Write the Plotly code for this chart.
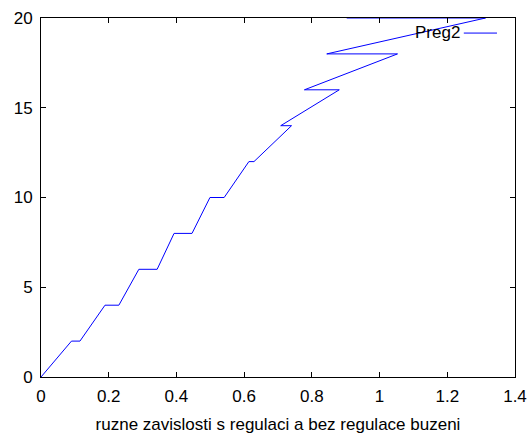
import plotly.graph_objects as go

x_vals = [0.0, 0.09, 0.115, 0.189, 0.23, 0.289, 0.343, 0.393, 0.446, 0.499, 0.541,
          0.614, 0.629, 0.740, 0.708, 0.881, 0.778, 1.053, 0.844, 1.313, 0.903]
y_vals = [0, 2, 2, 4, 4, 6, 6, 8, 8, 10, 10, 12, 12, 14, 14, 16, 16, 18, 18, 20, 20]
series_name = "Preg2"
x_title = "ruzne zavislosti s regulaci a bez regulace buzeni"
x_ticks = [0, 0.2, 0.4, 0.6, 0.8, 1, 1.2, 1.4]
x_ticktext = ["0", "0.2", "0.4", "0.6", "0.8", "1", "1.2", "1.4"]
y_ticks = [0, 5, 10, 15, 20]

font = dict(family="Liberation Sans, Arial, sans-serif", size=17, color="black")

fig = go.Figure()
fig.add_trace(go.Scatter(x=x_vals, y=y_vals, mode="lines", name=series_name,
                         line=dict(color="#0000ff", width=1), showlegend=False))

axis_common = dict(showline=True, linecolor="black", linewidth=1, mirror="allticks",
                   ticks="inside", ticklen=5, tickcolor="black", showgrid=False,
                   zeroline=False, tickfont=font, automargin=False)
fig.update_xaxes(range=[0, 1.4], tickvals=x_ticks, ticktext=x_ticktext,
                 ticklabelstandoff=4,
                 title=dict(text=x_title, font=font, standoff=12), **axis_common)
fig.update_yaxes(range=[0, 20], tickvals=y_ticks, ticklabelstandoff=4, **axis_common)

# gnuplot-style key: text then line sample
fig.add_annotation(xref="paper", yref="paper", x=0.881, y=0.96, text=series_name,
                   showarrow=False, xanchor="right", yanchor="middle", font=font,
                   xshift=3)
fig.add_shape(type="line", xref="paper", yref="paper", x0=0.892, x1=0.962,
              y0=0.958, y1=0.958, line=dict(color="#0000ff", width=1))

fig.update_layout(width=531, height=437, margin=dict(l=41, r=16, t=18, b=60),
                  plot_bgcolor="white", paper_bgcolor="white", font=font)
fig.write_html("out.html", config={"displayModeBar": False},
               post_script="document.body.style.margin='0';")
